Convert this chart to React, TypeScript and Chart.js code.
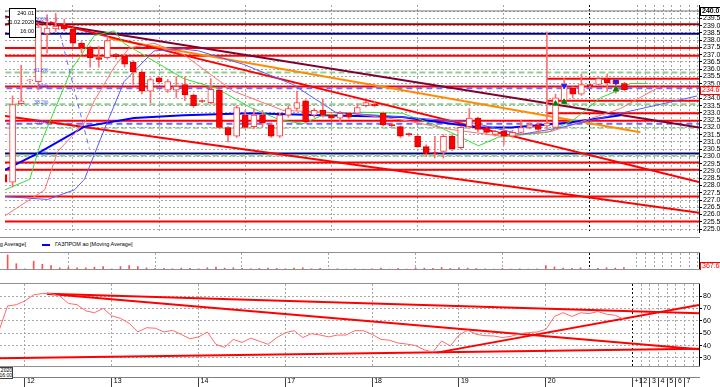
import React, { useEffect, useRef } from 'react';
import { Chart, registerables } from 'chart.js';

Chart.register(...registerables);

// ---------------- data ----------------
const FIRST_SLOT = -3; // hourly slot of the first candle (day "12" starts at slot 0, 10 slots per day)

const opens = [228.75, 228.23, 233.63, 235.2, 235.15, 238.45, 238.77, 239.04, 238.77, 237.79, 237.52, 236.8, 236.8, 237.0, 236.93, 236.47, 235.81, 234.49, 235.41, 234.56, 234.56, 234.95, 234.23, 233.83, 233.7, 234.56, 231.99, 231.39, 232.84, 232.05, 232.84, 232.18, 231.39, 232.84, 233.3, 233.83, 232.84, 233.17, 232.84, 232.64, 232.97, 232.97, 233.5, 233.6, 232.97, 232.18, 232.05, 231.55, 231.39, 230.67, 230.25, 230.34, 231.39, 230.6, 232.05, 232.64, 231.99, 231.52, 231.72, 231.39, 231.66, 231.99, 232.18, 232.1, 231.99, 233.83, 234.69, 234.29, 234.92, 234.95, 235.35, 235.22, 235.02];
const highs = [229.0, 234.16, 236.27, 235.3, 239.1, 239.76, 239.85, 239.43, 238.84, 237.9, 237.6, 237.6, 238.25, 237.1, 237.0, 236.6, 235.9, 235.4, 235.5, 235.3, 235.48, 235.48, 234.3, 233.9, 235.35, 234.65, 232.05, 233.5, 233.17, 233.3, 233.17, 232.3, 233.0, 233.5, 234.49, 233.9, 233.3, 233.96, 232.9, 233.1, 233.0, 233.63, 233.8, 233.8, 233.05, 232.3, 232.1, 231.6, 231.5, 230.8, 231.39, 231.5, 231.5, 232.1, 233.3, 232.7, 232.0, 231.8, 232.05, 231.8, 232.5, 232.3, 232.3, 238.58, 234.29, 235.35, 234.8, 235.68, 235.0, 235.45, 235.68, 235.3, 235.1];
const lows = [228.0, 227.9, 233.55, 235.1, 234.56, 237.13, 238.6, 238.64, 237.6, 237.13, 236.14, 236.14, 236.7, 236.7, 236.14, 234.95, 234.3, 233.7, 235.0, 234.4, 234.03, 233.83, 233.37, 233.7, 233.6, 231.9, 231.0, 231.3, 231.9, 231.9, 232.05, 231.3, 231.3, 232.7, 233.17, 232.3, 232.7, 232.7, 232.5, 232.38, 232.6, 232.9, 233.4, 233.4, 232.1, 232.0, 231.3, 231.4, 230.6, 230.0, 229.9, 229.88, 230.4, 230.5, 231.9, 231.7, 231.5, 231.4, 230.8, 231.3, 231.6, 231.9, 231.7, 231.9, 231.9, 233.63, 234.03, 234.2, 234.8, 234.9, 234.49, 234.36, 234.5];
const closes = [228.23, 233.57, 233.83, 235.25, 238.91, 238.84, 238.97, 238.77, 237.79, 237.46, 236.8, 236.67, 237.98, 236.86, 236.34, 235.81, 234.49, 235.28, 235.15, 235.15, 234.82, 234.23, 233.5, 233.78, 234.62, 231.99, 231.46, 233.37, 231.99, 232.84, 232.31, 231.39, 232.84, 233.3, 233.7, 232.38, 233.17, 232.84, 232.64, 232.97, 232.71, 233.37, 233.7, 233.5, 232.18, 232.12, 231.39, 231.5, 230.67, 230.21, 230.2, 231.39, 230.53, 232.0, 232.64, 231.85, 231.66, 231.72, 231.39, 231.66, 231.99, 232.18, 231.85, 232.3, 234.03, 234.82, 234.29, 234.95, 234.87, 235.35, 235.08, 235.0, 234.6];
const volumes = [600, 2400, 1000, 200, 1400, 900, 720, 340, 450, 340, 340, 450, 550, 170, 550, 720, 550, 340, 250, 250, 200, 300, 250, 200, 350, 450, 300, 350, 250, 200, 250, 300, 250, 200, 300, 350, 200, 250, 150, 200, 150, 200, 150, 200, 300, 150, 250, 150, 350, 300, 250, 400, 250, 350, 300, 250, 200, 150, 250, 150, 200, 150, 200, 700, 500, 300, 250, 350, 200, 250, 350, 300, 367.63];
const rsiValues = [52, 72, 73, 76, 81, 82, 82, 80, 74, 73, 68, 66.5, 70, 64, 62, 58, 51, 54.4, 54, 51, 52.3, 49, 45.5, 47, 51, 41, 38.5, 45, 42.5, 46, 43.5, 41, 46.4, 50.4, 52, 46.5, 49.6, 48.5, 47, 48.5, 48.5, 52, 52, 49, 45, 44.3, 42, 41.2, 40, 36.5, 34.8, 43.7, 39.7, 48.5, 52.5, 49, 48, 47.7, 46.5, 47.5, 49.5, 50.5, 51, 53, 63.5, 66.6, 63.5, 66.5, 65.8, 67.5, 65.3, 64.5, 61.2];

// Alligator-like averages (jaw / teeth / lips, shifted forward) and the long moving average
const jawSlots = [-2.88, 2.07, 5.18, 6.34, 8.64, 10.94, 14.4, 17.86, 19.6, 24.77, 30.53, 35.48, 43.2, 50.92, 57.03, 61.64, 68.55, 77.42];
const jawValues = [227.24, 227.04, 227.7, 228.43, 231.85, 235.15, 237.26, 237.39, 237.26, 236.34, 234.95, 233.04, 232.71, 232.38, 231.52, 231.99, 232.97, 234.16];
const teethSlots = [-2.88, 1.73, 3.23, 6.34, 7.49, 9.79, 11.52, 14.4, 17.86, 23.62, 29.38, 37.1, 43.2, 48.96, 54.72, 60.48, 63.94, 68.55, 73.16];
const teethValues = [225.92, 227.7, 230.34, 232.31, 233.83, 236.14, 237.46, 237.79, 237.0, 234.49, 233.17, 232.97, 232.51, 231.85, 231.39, 231.72, 232.38, 233.3, 234.82];
const lipsSlots = [-2.88, 0, 1.15, 4.84, 7.49, 9.79, 10.9, 17.86, 21.66, 25.6, 29.03, 31.7, 34, 38.6, 43.2, 47, 52.07, 54.4, 60.1, 63.1, 66.2, 68.55, 69.7, 71.7];
const lipsValues = [227.7, 228.43, 230.73, 236.0, 238.31, 238.64, 237.79, 235.35, 234.69, 233.37, 232.51, 232.25, 232.84, 233.04, 232.97, 232.18, 230.73, 231.33, 231.66, 232.51, 234.03, 234.62, 235.02, 235.02];
const maSlots = [-2.88, 0.92, 6.34, 12.1, 17.86, 25.58, 33.99, 43.2, 52.07, 55.88, 62.44, 68.55];
const maValues = [229.08, 230.21, 232.05, 232.64, 232.84, 232.97, 232.84, 232.71, 231.99, 231.99, 232.31, 232.84];

// fractal markers
const upFractalSlots = [62, 68];
const upFractalValues = [234.85, 235.15];
const downFractalSlots = [61, 62, 68];
const downFractalValues = [233.63, 233.76, 234.62];

// horizontal levels: price, kind, first slot
const levelPrices = [240.01, 239.1, 238.45, 237.46, 236.93, 235.35, 234.82, 233.83, 232.97, 232.45, 231.95, 230.2, 229.58, 229.08, 227.24, 225.52];
const levelKinds = ['max', 'dark', 'navy', 'red', 'red', 'red', 'red', 'red', 'red', 'red', 'greenDash', 'navy', 'red', 'red', 'red', 'red'];
const levelStarts = [-3, -3, -3, -3, -3, 60, -3, 60, 60, -3, -3, -3, -3, -3, -3, -3];

// Fibonacci retracement
const fibHigh = 239.3;
const fibLow = 230.07;
const fibRatios = [1, 0.618, 0.5, 0.382, 0.236, 0];
const fibLabels = ['100%', '61.8%', '50%', '38.2%', '23.6%', '0%'];
const fibKinds = ['none', 'green', 'blue', 'green', 'blue', 'green'];

// trend lines: [slot1, price1, slot2, price2]
const trendMaroon = [-2.88, 239.63, 77.65, 231.99];
const trendRedA = [2.3, 239.24, 77.65, 228.23];
const trendRedC = [-2.88, 232.78, 77.65, 226.12];
const trendOrange = [9.22, 238.12, 70.85, 231.66];
const trendFibDiag = [3.0, 239.63, 6.91, 230.53];

// RSI trend lines
const rsiLines = [
  [2.53, 81.9, 77.65, 66.0],
  [2.53, 81.9, 77.65, 37.0],
  [-2.88, 29.8, 77.65, 37.5],
  [47.43, 34.3, 77.65, 72.7],
];

// axes
const dayTicks = [0, 10, 20, 30, 40, 50, 60, 70];
const dayLabels = ['12', '13', '14', '17', '18', '19', '20', '+1'];
const futureTicks = [71, 72, 73, 74, 75, 76];
const futureLabels = ['2', '3', '4', '5', '6', '7'];
const gridSlots = [0, 10, 20, 30, 40, 50, 60, 70, 71, 72, 73, 74, 75, 76, 77];
const priceTicks = [225.0, 225.5, 226.0, 226.5, 227.0, 227.5, 228.0, 228.5, 229.0, 229.5, 230.0, 230.5, 231.0, 231.5, 232.0, 232.5, 233.0, 233.5, 234.0, 234.5, 235.0, 235.5, 236.0, 236.5, 237.0, 237.5, 238.0, 238.5, 239.0, 239.5, 240.0];
const rsiTicks = [30, 40, 50, 60, 70, 80];
const lastVolume = 367.63;
const infoLines = ['240.01', '11.02.2020', '16:00'];

// ---------------- view settings ----------------
const SLOT_MIN = -2.88;
const SLOT_MAX = 77.65;
const PRICE_MIN = 224.8;
const PRICE_MAX = 240.42;
const RSI_MIN = 22.7;
const RSI_MAX = 89.7;
const VOL_MAX = 2700;
const FONT = "'Liberation Sans', Arial, sans-serif";
const AXIS_W = 21;

const LEVEL_STYLE: any = {
  max: { color: '#808080', width: 1, dash: [] },
  dark: { color: '#a00000', width: 2, dash: [] },
  navy: { color: '#000080', width: 2, dash: [] },
  red: { color: '#ff0000', width: 2, dash: [] },
  greenDash: { color: '#6fbf6f', width: 1, dash: [6, 3] },
};
const FIB_STYLE: any = {
  blue: { color: '#6b6bff', dash: [6, 4] },
  green: { color: '#8fcf8f', dash: [6, 3] },
};

const slotOf = (i: number) => FIRST_SLOT + i;
const pairs = (xs: number[], ys: number[]) => xs.map((x, i) => ({ x, y: ys[i] }));
const seg = (l: number[]) => [{ x: l[0], y: l[1] }, { x: l[2], y: l[3] }];

function lineDs(data: any[], color: string, width: number, order: number, dash: number[] = []) {
  return {
    type: 'line',
    data,
    borderColor: color,
    backgroundColor: color,
    borderWidth: width,
    borderDash: dash,
    pointRadius: 0,
    pointHoverRadius: 0,
    fill: false,
    tension: 0,
    order,
  };
}

function xGridScale() {
  return {
    type: 'linear',
    min: SLOT_MIN,
    max: SLOT_MAX,
    offset: false,
    afterBuildTicks: (ax: any) => {
      ax.ticks = gridSlots.map((v) => ({ value: v }));
    },
    ticks: { display: false },
    grid: {
      color: (c: any) => (c.tick && c.tick.value === 70 ? '#000000' : '#a8a8a8'),
      lineWidth: 1,
      drawTicks: false,
    },
    border: { display: false, dash: [2, 2] },
    afterFit: (ax: any) => {
      ax.height = 0;
      ax.paddingLeft = 0;
      ax.paddingRight = 0;
    },
  };
}

function rightAxis(min: number, max: number, ticks: number[] | null, fmt: (v: number) => string) {
  return {
    type: 'linear',
    position: 'right',
    min,
    max,
    afterBuildTicks: (ax: any) => {
      ax.ticks = (ticks || []).map((v) => ({ value: v }));
    },
    ticks: {
      display: !!ticks,
      autoSkip: false,
      color: '#000',
      padding: 1,
      font: { family: FONT, size: 7 },
      callback: (v: any) => fmt(Number(v)),
    },
    grid: { color: '#a8a8a8', lineWidth: 1, tickLength: 3, tickColor: '#000', drawTicks: !!ticks },
    border: { display: true, color: '#000', dash: [2, 2] },
    afterFit: (ax: any) => {
      ax.width = AXIS_W;
      ax.paddingTop = 0;
      ax.paddingBottom = 0;
    },
  };
}

function baseOptions(scales: any, padRight = 0) {
  return {
    animation: false,
    responsive: false,
    maintainAspectRatio: false,
    events: [],
    layout: { padding: { left: 0, top: 0, bottom: 0, right: padRight } },
    plugins: { legend: { display: false }, tooltip: { enabled: false } },
    scales,
  };
}

function valueBox(ctx: any, chart: any, py: number, text: string, color: string, bold: boolean) {
  const x0 = chart.chartArea.right;
  ctx.save();
  ctx.fillStyle = '#ffffff';
  ctx.fillRect(x0 + 1, py - 4, AXIS_W, 9);
  ctx.strokeStyle = color;
  ctx.lineWidth = 1;
  ctx.strokeRect(x0 + 1.5, Math.round(py) - 3.5, AXIS_W, 8);
  ctx.fillStyle = color;
  ctx.font = `${bold ? 'bold ' : ''}7px ${FONT}`;
  ctx.textAlign = 'left';
  ctx.textBaseline = 'middle';
  ctx.fillText(text, x0 + 3, Math.round(py) + 0.5);
  ctx.restore();
}

function mainConfig(): any {
  const up = opens.map((o, i) => closes[i] >= o);
  const datasets: any[] = [];

  levelPrices.forEach((p, i) => {
    const st = LEVEL_STYLE[levelKinds[i]];
    datasets.push(lineDs([{ x: levelStarts[i], y: p }, { x: SLOT_MAX + 1, y: p }], st.color, st.width, 60, st.dash));
  });
  fibRatios.forEach((r, i) => {
    const st = FIB_STYLE[fibKinds[i]];
    if (!st) return;
    const p = fibLow + r * (fibHigh - fibLow);
    datasets.push(lineDs([{ x: SLOT_MIN - 1, y: p }, { x: SLOT_MAX + 1, y: p }], st.color, 2, 55, st.dash));
  });
  datasets.push(lineDs(seg(trendRedC), '#ff0000', 2, 50));
  datasets.push(lineDs(seg(trendRedA), '#ff0000', 2, 50));
  datasets.push(lineDs(seg(trendOrange), '#ff8c00', 2, 50));
  datasets.push(lineDs(seg(trendMaroon), '#800030', 2, 50));
  datasets.push(lineDs(seg(trendFibDiag), '#6b6bff', 1, 50, [5, 4]));
  datasets.push(lineDs(pairs(maSlots, maValues), '#0000ff', 2, 40));
  datasets.push(lineDs(pairs(jawSlots, jawValues), '#5a5aff', 1, 35));
  datasets.push(lineDs(pairs(teethSlots, teethValues), '#ff7070', 1, 35));
  datasets.push(lineDs(pairs(lipsSlots, lipsValues), '#33dd33', 1, 35));

  datasets.push({
    type: 'bar',
    data: lows.map((l, i) => ({ x: slotOf(i), y: [l, highs[i]] })),
    barThickness: 1,
    grouped: false,
    backgroundColor: '#ff7070',
    borderWidth: 0,
    order: 20,
  });
  datasets.push({
    type: 'bar',
    data: opens.map((o, i) => ({ x: slotOf(i), y: [o, closes[i]] })),
    barThickness: 6,
    grouped: false,
    backgroundColor: up.map((u) => (u ? '#ffffff' : '#ff0000')),
    borderColor: up.map((u) => (u ? '#ff3c3c' : '#e00000')),
    borderWidth: 1,
    borderSkipped: false,
    minBarLength: 1,
    order: 10,
  });
  datasets.push({
    type: 'line',
    data: pairs(upFractalSlots, upFractalValues),
    showLine: false,
    pointStyle: 'triangle',
    rotation: 180,
    pointRadius: 3,
    backgroundColor: '#2020ff',
    borderColor: '#2020ff',
    order: 5,
  });
  datasets.push({
    type: 'line',
    data: pairs(downFractalSlots, downFractalValues),
    showLine: false,
    pointStyle: 'triangle',
    pointRadius: 3,
    backgroundColor: '#008000',
    borderColor: '#008000',
    order: 5,
  });

  const overlay = {
    id: 'mainOverlay',
    afterDatasetsDraw(chart: any) {
      const { ctx, scales } = chart;
      const x = scales.x;
      const y = scales.y;
      ctx.save();
      ctx.font = `5px ${FONT}`;
      ctx.fillStyle = '#4a4aff';
      ctx.textAlign = 'right';
      ctx.textBaseline = 'bottom';
      fibRatios.forEach((r, i) => {
        const p = fibLow + r * (fibHigh - fibLow);
        ctx.fillText(fibLabels[i], x.getPixelForValue(2.15), y.getPixelForValue(p) + 1);
      });
      // crosshair info box
      const bx = 9, by = 8, bw = 26, bh = 29;
      ctx.fillStyle = '#ffffff';
      ctx.fillRect(bx, by, bw, bh);
      ctx.strokeStyle = '#000';
      ctx.lineWidth = 1;
      ctx.strokeRect(bx + 0.5, by + 0.5, bw, bh);
      ctx.fillStyle = '#000';
      ctx.font = `5.5px ${FONT}`;
      ctx.textBaseline = 'middle';
      ctx.fillText(infoLines[0], bx + bw - 1, by + 5);
      ctx.fillText(infoLines[1], bx + bw - 1, by + 14);
      ctx.fillText(infoLines[2], bx + bw - 1, by + 23);
      ctx.restore();
    },
    afterDraw(chart: any) {
      const y = chart.scales.y;
      valueBox(chart.ctx, chart, y.getPixelForValue(levelPrices[0]), levelPrices[0].toFixed(2), '#000000', true);
      valueBox(chart.ctx, chart, y.getPixelForValue(closes[closes.length - 1]), closes[closes.length - 1].toFixed(2), '#ff0000', false);
    },
  };

  return {
    type: 'bar',
    data: { datasets },
    options: baseOptions({
      x: xGridScale(),
      y: rightAxis(PRICE_MIN, PRICE_MAX, priceTicks, (v) => v.toFixed(1)),
    }),
    plugins: [overlay],
  };
}

function volumeConfig(): any {
  const overlay = {
    id: 'volOverlay',
    afterDraw(chart: any) {
      const y = chart.scales.y;
      valueBox(chart.ctx, chart, Math.min(y.getPixelForValue(lastVolume), chart.chartArea.bottom - 4), lastVolume.toFixed(2), '#ff0000', false);
    },
  };
  return {
    type: 'bar',
    data: {
      datasets: [
        {
          data: volumes.map((v, i) => ({ x: slotOf(i), y: v })),
          barThickness: 1,
          backgroundColor: '#ff5050',
          borderWidth: 0,
          grouped: false,
        },
      ],
    },
    options: baseOptions({
      x: xGridScale(),
      y: { ...rightAxis(0, VOL_MAX, null, (v) => String(v)), grid: { display: false } },
    }),
    plugins: [overlay],
  };
}

function rsiConfig(): any {
  const datasets: any[] = rsiLines.map((l) => lineDs(seg(l), '#ff0000', 2, 20));
  datasets.push(lineDs(rsiValues.map((v, i) => ({ x: slotOf(i), y: v })), '#ff6a6a', 1, 10));
  return {
    type: 'line',
    data: { datasets },
    options: baseOptions({
      x: xGridScale(),
      y: rightAxis(RSI_MIN, RSI_MAX, rsiTicks, (v) => String(Math.round(v))),
    }),
  };
}

function axisConfig(): any {
  const labelFor = (v: number) => {
    const d = dayTicks.indexOf(v);
    if (d >= 0) return ' ' + dayLabels[d];
    const f = futureTicks.indexOf(v);
    if (f >= 0) return ' ' + futureLabels[f];
    return '';
  };
  return {
    type: 'line',
    data: { datasets: [] },
    options: baseOptions(
      {
        x: {
          type: 'linear',
          position: 'bottom',
          min: SLOT_MIN,
          max: SLOT_MAX,
          offset: false,
          afterBuildTicks: (ax: any) => {
            ax.ticks = [...dayTicks, ...futureTicks].map((v) => ({ value: v }));
          },
          ticks: {
            autoSkip: false,
            maxRotation: 0,
            align: 'start',
            padding: -10,
            color: '#000',
            font: { family: FONT, size: 7 },
            callback: (v: any) => labelFor(Number(v)),
          },
          grid: { drawOnChartArea: false, drawTicks: true, tickLength: 10, tickColor: '#404040' },
          border: { display: true, color: '#808080' },
          afterFit: (ax: any) => {
            ax.height = 10;
            ax.paddingLeft = 0;
            ax.paddingRight = 0;
          },
        },
        y: { display: false, min: 0, max: 1 },
      },
      AXIS_W
    ),
  };
}

const hLine = (top: number, width = 700): any => ({
  position: 'absolute',
  left: 0,
  top,
  width,
  height: 1,
  background: '#909090',
});

export default function App() {
  const mainRef = useRef<HTMLCanvasElement>(null);
  const volRef = useRef<HTMLCanvasElement>(null);
  const rsiRef = useRef<HTMLCanvasElement>(null);
  const axisRef = useRef<HTMLCanvasElement>(null);

  useEffect(() => {
    document.body.style.margin = '0';
    const charts: Chart[] = [];
    charts.push(new Chart(mainRef.current as HTMLCanvasElement, mainConfig()));
    charts.push(new Chart(volRef.current as HTMLCanvasElement, volumeConfig()));
    charts.push(new Chart(rsiRef.current as HTMLCanvasElement, rsiConfig()));
    charts.push(new Chart(axisRef.current as HTMLCanvasElement, axisConfig()));
    return () => charts.forEach((c) => c.destroy());
  }, []);

  const canvasStyle = (top: number, height: number): any => ({ position: 'absolute', left: 0, top, width: 720, height, display: 'block' });
  const legendText: any = { position: 'absolute', top: 241, fontSize: 5.5, lineHeight: '7px', whiteSpace: 'nowrap', color: '#000' };

  return (
    <div style={{ position: 'fixed', left: 0, top: 0, width: 720, height: 387, background: '#ffffff', overflow: 'hidden', fontFamily: FONT }}>
      <canvas ref={mainRef} width={720} height={237} style={canvasStyle(0, 237)} />
      <div style={hLine(237)} />
      <div style={{ ...legendText, right: 694 }}>ГАЗПРОМ ао [Moving Average]</div>
      <div style={{ position: 'absolute', left: 42, top: 244, width: 8, height: 2, background: '#0000ff' }} />
      <div style={{ ...legendText, left: 55 }}>ГАЗПРОМ ао [Moving Average]</div>
      <div style={hLine(252)} />
      <canvas ref={volRef} width={720} height={17} style={canvasStyle(253, 17)} />
      <div style={hLine(269)} />
      <div style={hLine(283)} />
      <canvas ref={rsiRef} width={720} height={83} style={canvasStyle(284, 83)} />
      <div style={hLine(366)} />
      <canvas ref={axisRef} width={720} height={21} style={canvasStyle(366, 21)} />
      <div style={{ position: 'absolute', left: -30, top: 367, width: 41, height: 10, border: '1px solid #404040', background: '#fff', fontSize: 5, lineHeight: '5px', textAlign: 'right', color: '#000' }}>
        <div>11.02.2020</div>
        <div>16:00</div>
      </div>
    </div>
  );
}
